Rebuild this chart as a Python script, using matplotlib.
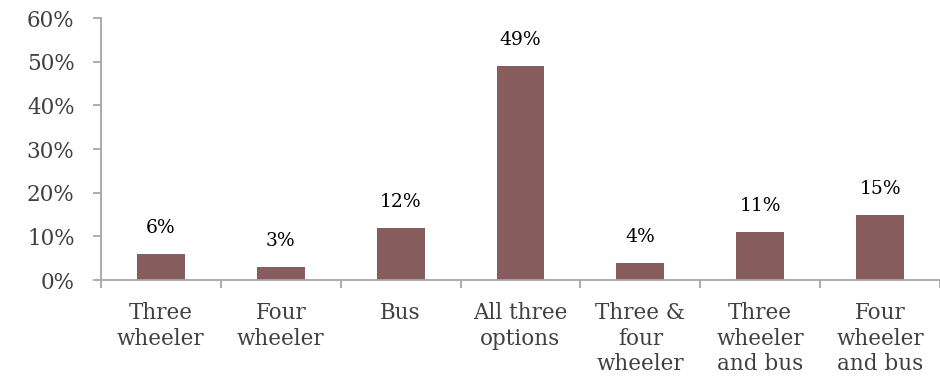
import matplotlib.pyplot as plt
import numpy as np

categories = ["Three\nwheeler", "Four\nwheeler", "Bus", "All three\noptions",
              "Three &\nfour\nwheeler", "Three\nwheeler\nand bus", "Four\nwheeler\nand bus"]
shares = [6, 3, 12, 49, 4, 11, 15]
y_ticks = [0, 10, 20, 30, 40, 50, 60]

plt.rcParams['font.family'] = ['DejaVu Serif']

fig = plt.figure(figsize=(9.4, 3.89), dpi=100)
ax = fig.add_axes([0.1074, 0.2802, 0.8926, 0.6735])

x = np.arange(len(categories))
bars = ax.bar(x, shares, width=0.4, color='#875E5D', zorder=2)

for b, v in zip(bars, shares):
    ax.annotate(str(v) + '%', (b.get_x() + b.get_width()/2, v),
                xytext=(0, 12), textcoords='offset points',
                ha='center', va='bottom', fontsize=13.5, color='black')

ax.set_xlim(-0.5, len(categories) - 0.5)
ax.set_ylim(0, 60)
ax.set_yticks(y_ticks)
ax.set_yticklabels([str(t) + '%' for t in y_ticks])
ax.set_xticks(x)
ax.set_xticklabels(categories, linespacing=1.2)
ax.set_xticks(np.arange(-0.5, len(categories)), minor=True)

for s in ['top', 'right']:
    ax.spines[s].set_visible(False)
for s in ['left', 'bottom']:
    ax.spines[s].set_color('#A6A6A6')
    ax.spines[s].set_linewidth(1.3)

ax.tick_params(axis='y', length=6, width=1.3, color='#A6A6A6', pad=13,
               labelsize=15.5, labelcolor='#404040')
ax.tick_params(axis='x', which='major', length=0, pad=16,
               labelsize=15.5, labelcolor='#404040')
ax.tick_params(axis='x', which='minor', length=6, width=1.3, color='#A6A6A6')

fig.savefig('out.png', dpi=100)
